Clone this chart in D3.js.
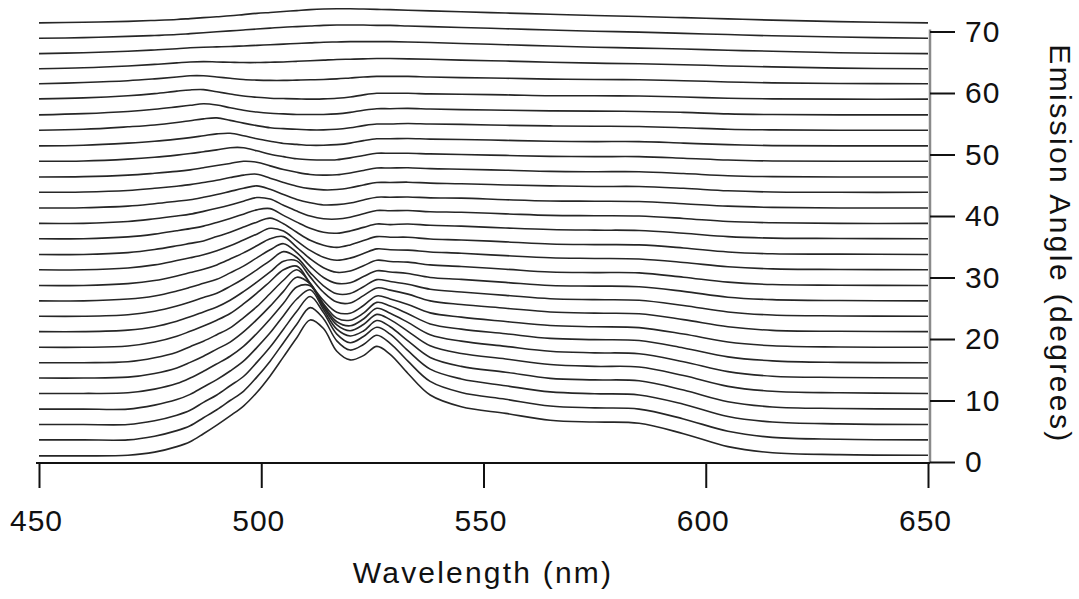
<!DOCTYPE html>
<html>
<head>
<meta charset="utf-8">
<script src="https://cdn.jsdelivr.net/npm/d3@7"></script>
<style>
  html, body { margin: 0; padding: 0; background: #fff; }
  svg { display: block; }
  text { font-family: "Liberation Sans", Arial, sans-serif; fill: #111; }
</style>
</head>
<body>
<svg id="chart" width="1079" height="599"></svg>
<script>
// Sampling wavelengths (nm) shared by every spectrum
const wavelengths = [450, 460, 470, 476, 481, 484, 487, 490, 493, 496, 499, 502, 505, 508, 511, 514, 517, 520, 523, 526, 529, 533, 538, 545, 555, 565, 575, 585, 595, 605, 615, 630, 650];

// Emission angle of each spectrum (degrees); each trace is offset by its angle
const angles = [0, 2.5, 5, 7.5, 10, 12.5, 15, 17.5, 20, 22.5, 25, 27.5, 30, 32.5, 35, 37.5, 40, 42.5, 45, 47.5, 50, 52.5, 55, 57.5, 60, 62.5, 65, 67.5, 70];

// Emission intensity (a.u., same units as the angle offset), one row per angle
const intensity = [
  [1.0, 1.0, 1.1, 1.6, 2.5, 3.3, 4.6, 6.0, 7.5, 9.1, 11.3, 14.0, 17.1, 20.2, 23.1, 21.7, 18.0, 16.6, 17.3, 18.8, 17.5, 14.4, 10.9, 9.0, 7.9, 6.8, 6.5, 6.3, 4.6, 2.5, 1.5, 1.2, 1.1],
  [1.1, 1.1, 1.1, 1.7, 2.6, 3.4, 4.7, 6.0, 7.5, 9.0, 11.3, 13.9, 16.9, 19.9, 22.6, 20.8, 17.2, 15.7, 16.6, 18.1, 16.8, 13.9, 10.6, 8.8, 7.7, 6.6, 6.3, 6.1, 4.5, 2.5, 1.5, 1.2, 1.1],
  [1.1, 1.1, 1.1, 1.7, 2.6, 3.4, 4.7, 5.9, 7.4, 8.9, 11.2, 13.7, 16.6, 19.5, 21.9, 19.3, 15.8, 14.4, 15.4, 16.9, 15.8, 13.1, 10.1, 8.5, 7.4, 6.4, 6.1, 5.9, 4.4, 2.4, 1.5, 1.2, 1.1],
  [1.1, 1.1, 1.1, 1.75, 2.65, 3.5, 4.7, 5.9, 7.3, 8.9, 11.1, 13.5, 16.3, 19.0, 20.5, 17.3, 14.1, 13.0, 13.8, 15.5, 14.5, 12.2, 9.5, 8.05, 7.1, 6.1, 5.85, 5.7, 4.2, 2.3, 1.45, 1.2, 1.1],
  [1.15, 1.15, 1.25, 1.85, 2.75, 3.65, 4.75, 5.95, 7.2, 8.8, 10.9, 13.25, 15.8, 18.45, 18.65, 15.2, 12.3, 11.35, 12.35, 14.0, 13.15, 11.25, 8.9, 7.65, 6.75, 5.85, 5.55, 5.45, 4.05, 2.3, 1.5, 1.25, 1.15],
  [1.15, 1.15, 1.3, 1.9, 2.8, 3.7, 4.7, 5.85, 7.0, 8.65, 10.65, 12.85, 15.25, 17.55, 16.45, 12.95, 10.3, 9.65, 10.75, 12.5, 11.7, 10.2, 8.2, 7.15, 6.3, 5.5, 5.25, 5.1, 3.8, 2.2, 1.45, 1.25, 1.15],
  [1.15, 1.15, 1.3, 1.95, 2.85, 3.75, 4.65, 5.7, 6.8, 8.45, 10.25, 12.4, 14.55, 16.25, 14.05, 10.75, 8.4, 8.05, 9.2, 10.95, 10.35, 9.1, 7.45, 6.6, 5.85, 5.1, 4.9, 4.75, 3.55, 2.1, 1.45, 1.2, 1.15],
  [1.15, 1.15, 1.35, 2.0, 2.95, 3.75, 4.6, 5.55, 6.65, 8.2, 9.95, 11.85, 13.75, 14.35, 11.55, 8.75, 6.85, 6.7, 7.95, 9.5, 9.0, 8.1, 6.75, 6.05, 5.35, 4.7, 4.5, 4.35, 3.3, 2.0, 1.4, 1.2, 1.15],
  [1.2, 1.2, 1.45, 2.0, 2.9, 3.6, 4.4, 5.2, 6.3, 7.7, 9.25, 10.9, 12.65, 12.7, 10.1, 7.6, 6.0, 5.85, 7.05, 8.3, 7.95, 7.3, 6.2, 5.6, 5.0, 4.4, 4.2, 4.1, 3.15, 2.0, 1.4, 1.25, 1.2],
  [1.2, 1.2, 1.45, 2.0, 2.85, 3.5, 4.25, 4.95, 6.05, 7.3, 8.75, 10.25, 11.7, 10.75, 8.3, 6.15, 4.85, 4.9, 6.0, 7.15, 6.85, 6.4, 5.6, 5.15, 4.6, 4.05, 3.9, 3.8, 2.95, 1.9, 1.4, 1.25, 1.2],
  [1.2, 1.2, 1.5, 2.0, 2.8, 3.4, 4.05, 4.7, 5.75, 6.85, 8.2, 9.5, 10.5, 9.05, 6.85, 5.0, 4.05, 4.15, 5.15, 6.1, 5.9, 5.65, 5.0, 4.7, 4.2, 3.7, 3.6, 3.5, 2.75, 1.8, 1.4, 1.25, 1.2],
  [1.2, 1.2, 1.5, 2.0, 2.75, 3.3, 3.85, 4.55, 5.5, 6.5, 7.65, 8.8, 9.15, 7.4, 5.55, 4.1, 3.35, 3.55, 4.4, 5.3, 5.1, 5.0, 4.55, 4.3, 3.85, 3.4, 3.3, 3.25, 2.55, 1.75, 1.35, 1.25, 1.2],
  [1.25, 1.25, 1.55, 2.05, 2.75, 3.2, 3.7, 4.35, 5.15, 6.1, 7.05, 8.0, 7.55, 5.95, 4.4, 3.3, 2.8, 3.15, 3.9, 4.65, 4.5, 4.45, 4.15, 3.95, 3.55, 3.2, 3.1, 3.0, 2.45, 1.75, 1.4, 1.3, 1.25],
  [1.25, 1.25, 1.55, 2.05, 2.65, 3.05, 3.45, 4.15, 4.85, 5.7, 6.5, 7.15, 6.25, 4.85, 3.55, 2.75, 2.4, 2.8, 3.5, 4.15, 4.05, 4.05, 3.75, 3.6, 3.3, 2.95, 2.85, 2.8, 2.3, 1.65, 1.35, 1.3, 1.25],
  [1.3, 1.3, 1.6, 2.05, 2.6, 2.95, 3.35, 3.95, 4.6, 5.3, 6.0, 6.2, 5.1, 4.0, 3.0, 2.35, 2.2, 2.55, 3.15, 3.7, 3.6, 3.7, 3.5, 3.35, 3.05, 2.8, 2.7, 2.65, 2.2, 1.65, 1.4, 1.35, 1.3],
  [1.3, 1.3, 1.6, 2.05, 2.5, 2.8, 3.25, 3.75, 4.3, 4.9, 5.5, 5.25, 4.25, 3.3, 2.5, 2.05, 2.0, 2.3, 2.85, 3.4, 3.35, 3.4, 3.2, 3.1, 2.85, 2.6, 2.55, 2.5, 2.1, 1.6, 1.4, 1.3, 1.3],
  [1.3, 1.35, 1.6, 2.0, 2.4, 2.65, 3.05, 3.5, 4.0, 4.5, 4.9, 4.35, 3.5, 2.7, 2.15, 1.8, 1.85, 2.1, 2.6, 3.05, 3.05, 3.1, 2.95, 2.9, 2.65, 2.45, 2.4, 2.35, 2.0, 1.6, 1.4, 1.3, 1.3],
  [1.35, 1.4, 1.65, 2.0, 2.35, 2.6, 2.95, 3.3, 3.75, 4.15, 4.3, 3.65, 2.95, 2.35, 1.95, 1.75, 1.8, 2.1, 2.55, 2.95, 2.95, 3.0, 2.85, 2.75, 2.55, 2.4, 2.3, 2.3, 2.0, 1.6, 1.4, 1.35, 1.35],
  [1.35, 1.4, 1.65, 1.95, 2.25, 2.5, 2.85, 3.2, 3.55, 3.9, 3.75, 3.15, 2.55, 2.1, 1.75, 1.65, 1.7, 2.0, 2.4, 2.8, 2.8, 2.85, 2.7, 2.6, 2.45, 2.25, 2.2, 2.2, 1.9, 1.55, 1.4, 1.35, 1.35],
  [1.4, 1.45, 1.75, 2.05, 2.4, 2.65, 2.95, 3.25, 3.6, 3.6, 3.1, 2.55, 2.15, 1.8, 1.65, 1.6, 1.65, 1.95, 2.35, 2.7, 2.7, 2.7, 2.6, 2.5, 2.35, 2.2, 2.15, 2.15, 1.9, 1.6, 1.45, 1.4, 1.4],
  [1.4, 1.5, 1.85, 2.15, 2.5, 2.75, 3.05, 3.35, 3.45, 3.05, 2.55, 2.15, 1.8, 1.65, 1.5, 1.5, 1.6, 1.85, 2.25, 2.55, 2.55, 2.6, 2.5, 2.45, 2.3, 2.15, 2.1, 2.1, 1.85, 1.6, 1.45, 1.4, 1.4],
  [1.45, 1.6, 2.0, 2.3, 2.7, 3.0, 3.3, 3.45, 3.05, 2.6, 2.2, 1.85, 1.7, 1.6, 1.5, 1.5, 1.6, 1.85, 2.2, 2.45, 2.45, 2.55, 2.45, 2.4, 2.25, 2.15, 2.1, 2.05, 1.85, 1.6, 1.5, 1.45, 1.45],
  [1.45, 1.65, 2.0, 2.35, 2.75, 3.0, 3.25, 3.05, 2.6, 2.2, 1.9, 1.7, 1.6, 1.5, 1.5, 1.5, 1.6, 1.85, 2.2, 2.45, 2.45, 2.5, 2.4, 2.3, 2.2, 2.1, 2.05, 2.0, 1.85, 1.6, 1.5, 1.45, 1.45],
  [1.55, 1.7, 2.05, 2.4, 2.8, 3.0, 3.05, 2.7, 2.35, 2.0, 1.8, 1.65, 1.6, 1.55, 1.5, 1.55, 1.65, 1.85, 2.2, 2.45, 2.45, 2.45, 2.35, 2.3, 2.2, 2.05, 2.05, 2.0, 1.85, 1.65, 1.55, 1.5, 1.5],
  [1.5, 1.7, 2.0, 2.3, 2.6, 2.8, 2.8, 2.6, 2.4, 2.2, 2.1, 2.05, 2.05, 2.1, 2.15, 2.2, 2.3, 2.45, 2.6, 2.7, 2.7, 2.7, 2.6, 2.5, 2.4, 2.25, 2.2, 2.15, 2.0, 1.8, 1.65, 1.55, 1.5],
  [1.45, 1.6, 1.9, 2.15, 2.4, 2.55, 2.6, 2.55, 2.5, 2.45, 2.45, 2.5, 2.55, 2.65, 2.75, 2.85, 2.95, 3.0, 3.05, 3.1, 3.1, 3.05, 3.0, 2.85, 2.7, 2.5, 2.35, 2.25, 2.1, 1.9, 1.75, 1.55, 1.45],
  [1.4, 1.55, 1.8, 2.0, 2.2, 2.35, 2.45, 2.5, 2.55, 2.65, 2.75, 2.85, 2.95, 3.05, 3.15, 3.25, 3.3, 3.35, 3.35, 3.35, 3.35, 3.3, 3.2, 3.05, 2.85, 2.65, 2.45, 2.3, 2.15, 1.95, 1.8, 1.55, 1.4],
  [1.4, 1.5, 1.7, 1.85, 2.0, 2.15, 2.3, 2.45, 2.6, 2.75, 2.9, 3.05, 3.2, 3.3, 3.4, 3.5, 3.55, 3.55, 3.55, 3.5, 3.5, 3.4, 3.3, 3.15, 2.95, 2.75, 2.55, 2.4, 2.2, 2.0, 1.8, 1.6, 1.4],
  [1.4, 1.5, 1.65, 1.8, 1.95, 2.1, 2.25, 2.4, 2.55, 2.75, 2.95, 3.1, 3.25, 3.4, 3.55, 3.65, 3.7, 3.7, 3.65, 3.6, 3.55, 3.45, 3.35, 3.2, 3.0, 2.8, 2.6, 2.45, 2.25, 2.05, 1.85, 1.6, 1.4]
];

const xTicks = [450, 500, 550, 600, 650];
const yTicks = [0, 10, 20, 30, 40, 50, 60, 70];

const svg = d3.select("#chart");
const W = 1079, H = 599;
svg.append("rect").attr("width", W).attr("height", H).attr("fill", "#fff");

const x = d3.scaleLinear().domain([450, 650]).range([39, 928]);
const y = d3.scaleLinear().domain([0, 70]).range([462, 31.5]);

// Waterfall traces: each spectrum raised by its emission angle
const line = d3.line()
  .x(d => x(d[0]))
  .y(d => y(d[1]))
  .curve(d3.curveCatmullRom.alpha(0.5));

const traces = svg.append("g").attr("class", "traces");
angles.forEach((a, i) => {
  const pts = wavelengths.map((w, j) => [w, a + intensity[i][j]]);
  traces.append("path")
    .attr("d", line(pts))
    .attr("fill", "none")
    .attr("stroke", "#262626")
    .attr("stroke-width", 1.6)
    .attr("stroke-linejoin", "round");
});

// Bottom wavelength axis
const xAxis = d3.axisBottom(x).tickValues(xTicks).tickSize(25).tickSizeOuter(0).tickPadding(22);
const gx = svg.append("g").attr("transform", `translate(0, 463)`).call(xAxis);
gx.select(".domain").attr("stroke", "#111").attr("stroke-width", 2)
  .attr("d", `M${x(450) - 3},0H${x(650) + 2}`);
gx.selectAll(".tick line").attr("stroke", "#111").attr("stroke-width", 2);
gx.selectAll(".tick text")
  .attr("font-size", 30)
  .attr("font-family", "Liberation Sans, Arial, sans-serif")
  .attr("letter-spacing", 1)
  .attr("fill", "#111")
  .attr("dx", -3)
  .attr("dy", "0.71em");

svg.append("text")
  .attr("x", 483).attr("y", 583)
  .attr("text-anchor", "middle")
  .attr("font-size", 30)
  .attr("letter-spacing", 2.2)
  .text("Wavelength (nm)");

// Right angle axis
const yAxis = d3.axisRight(y).tickValues(yTicks).tickSize(25).tickSizeOuter(0).tickPadding(10);
const gy = svg.append("g").attr("transform", `translate(930, 0)`).call(yAxis);
gy.select(".domain").attr("stroke", "#8a8a8a").attr("stroke-width", 2.5)
  .attr("d", `M0,${y(70) - 2}V${y(0)}`);
gy.selectAll(".tick line").attr("stroke", "#111").attr("stroke-width", 2);
gy.selectAll(".tick text")
  .attr("font-size", 30)
  .attr("font-family", "Liberation Sans, Arial, sans-serif")
  .attr("letter-spacing", 1)
  .attr("fill", "#111");

svg.append("text")
  .attr("transform", `translate(1050, 244) rotate(90)`)
  .attr("text-anchor", "middle")
  .attr("font-size", 30)
  .attr("letter-spacing", 2.4)
  .text("Emission Angle (degrees)");
</script>
</body>
</html>
